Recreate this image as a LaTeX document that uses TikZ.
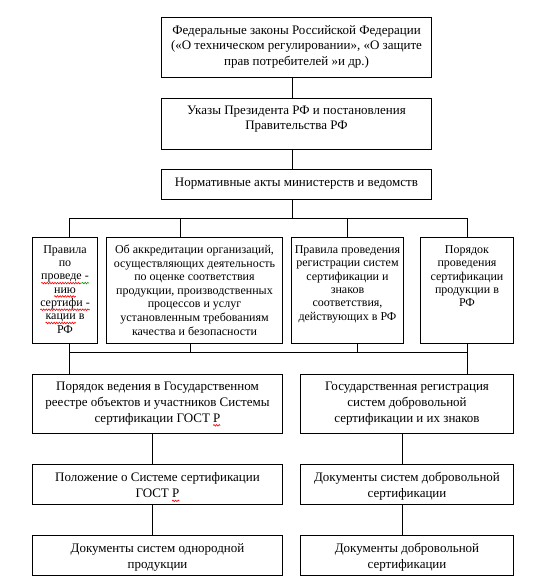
\documentclass[tikz,border=0pt]{standalone}
\usepackage{fontspec}
\setmainfont{Liberation Serif}
\usetikzlibrary{decorations.pathmorphing}
\newlength\wavelen
% colour, text: wavy spell-check underline
\newcommand\wave[2]{\sbox0{#2}\setlength\wavelen{\wd0}\usebox0\tikz[baseline=0pt,x=1pt,y=1pt]{\useasboundingbox (0,0); \draw[#1,line width=0.6pt,decorate,decoration={snake,amplitude=0.8pt,segment length=2.6pt}] (-\wavelen,-3.2) -- (0,-3.2);}}
% width, height, top pad, font size, baselineskip, text
\newcommand\bt[6]{\parbox[c][#2pt][t]{#1pt}{\fontsize{#4}{#5}\selectfont\centering\vspace*{#3pt}\strut #6}}
\tikzset{
  bx/.style={draw, line width=1pt, inner sep=0pt, anchor=north west},
  ln/.style={draw, line width=1pt}
}
\begin{document}
\begin{tikzpicture}[x=1pt, y=-1pt]
\useasboundingbox (0,0) rectangle (549,583);
% top chain
\node[bx] (b1) at (161,17) {\bt{270}{60}{6}{13}{15.5}{Федеральные законы Российской Федерации\\(«О техническом регулировании», «О защите\\прав потребителей »и др.)}};
\node[bx] (b2) at (161,98) {\bt{270}{51}{6}{13}{14.5}{Указы Президента РФ и постановления\\Правительства РФ}};
\node[bx] (b3) at (161,169) {\bt{270}{30}{6}{13}{15}{Нормативные акты министерств и ведомств}};
% row of four
\node[bx] (ra) at (32,237) {\bt{65}{106}{6.5}{12}{13.3}{Правила\\по\\\wave{red}{проведе}\wave{green!60!black}{ -}\\\wave{red}{нию}\\\wave{red}{сертифи -}\\\wave{red}{кации} в\\РФ}};
\node[bx] (rb) at (106,237) {\bt{176}{106}{6.5}{12}{13.6}{Об аккредитации организаций,\\осуществляющих деятельность\\по оценке соответствия\\продукции, производственных\\процессов и услуг\\установленным требованиям\\качества и безопасности}};
\node[bx] (rc) at (291,237) {\bt{112}{106}{6.5}{12}{13.4}{Правила проведения\\регистрации систем\\сертификации и\\знаков\\соответствия,\\действующих в РФ}};
\node[bx] (rd) at (420,237) {\bt{93}{106}{6.5}{12}{13.4}{Порядок\\проведения\\сертификации\\продукции в\\РФ}};
% lower columns
\node[bx] (l1) at (32,374) {\bt{250}{59}{5}{13}{15.8}{Порядок ведения в Государственном\\реестре объектов и участников Системы\\сертификации ГОСТ \wave{red}{Р}}};
\node[bx] (r1) at (300,374) {\bt{213}{59}{5}{13}{15.8}{Государственная регистрация\\систем добровольной\\сертификации и их знаков}};
\node[bx] (l2) at (32,464) {\bt{250}{40}{6}{13}{16}{Положение о Системе сертификации\\ГОСТ \wave{red}{Р}}};
\node[bx] (r2) at (300,464) {\bt{213}{40}{6}{13}{16}{Документы систем добровольной\\сертификации}};
\node[bx] (l3) at (32,535) {\bt{250}{40}{6}{13}{16}{Документы систем однородной\\продукции}};
\node[bx] (r3) at (300,535) {\bt{213}{40}{6}{13}{16}{Документы добровольной\\сертификации}};
% junction coordinates
\coordinate (tc) at (292,218);
\coordinate (ta) at (69,218);
\coordinate (tb) at (180,218);
\coordinate (tcc) at (347,218);
\coordinate (td) at (467,218);
\coordinate (ba) at (69,352);
\coordinate (bb) at (190,352);
\coordinate (bc) at (357,352);
\coordinate (bd) at (467,352);
\coordinate (cl) at (152,0);
\coordinate (cr) at (402,0);
% connectors
\path[ln] (b1.south -| tc) -- (b2.north -| tc);
\path[ln] (b2.south -| tc) -- (b3.north -| tc);
\path[ln] (b3.south -| tc) -- (tc);
\path[ln] (ta) -- (td);
\path[ln] (ta) -- (ra.north -| ta);
\path[ln] (tb) -- (rb.north -| tb);
\path[ln] (tcc) -- (rc.north -| tcc);
\path[ln] (td) -- (rd.north -| td);
\path[ln] (ba) -- (bd);
\path[ln] (ra.south -| ba) -- (l1.north -| ba);
\path[ln] (rb.south -| bb) -- (bb);
\path[ln] (rc.south -| bc) -- (bc);
\path[ln] (rd.south -| bd) -- (r1.north -| bd);
\path[ln] (l1.south -| cl) -- (l2.north -| cl);
\path[ln] (l2.south -| cl) -- (l3.north -| cl);
\path[ln] (r1.south -| cr) -- (r2.north -| cr);
\path[ln] (r2.south -| cr) -- (r3.north -| cr);
\end{tikzpicture}
\end{document}
